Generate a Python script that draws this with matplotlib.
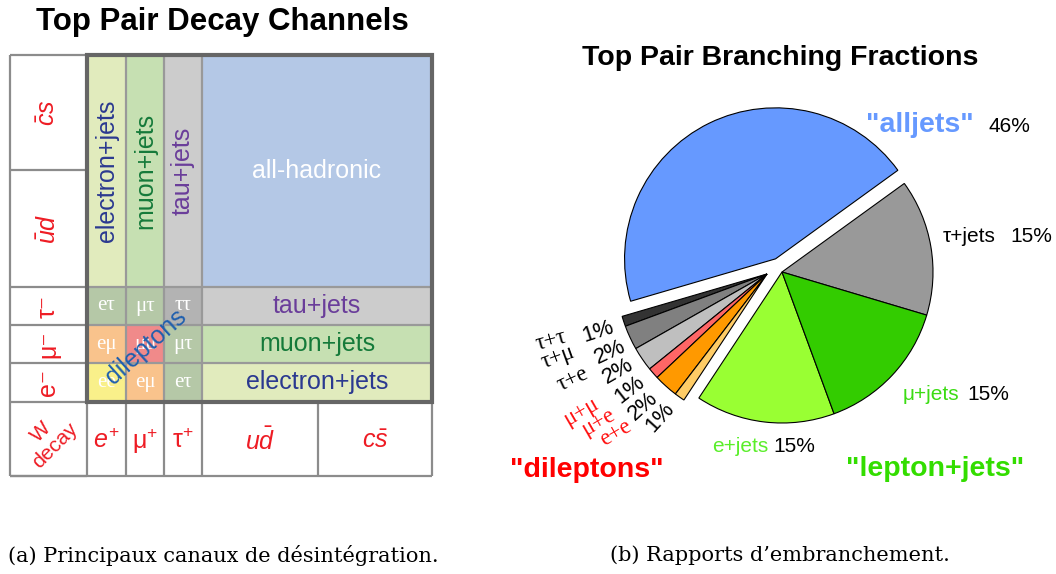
import matplotlib
matplotlib.use('Agg')
import matplotlib.pyplot as plt
from matplotlib.patches import Rectangle

plt.rcParams['font.family'] = ['Liberation Sans', 'DejaVu Sans']
plt.rcParams['mathtext.fontset'] = 'custom'
plt.rcParams['mathtext.rm'] = 'Liberation Sans'
plt.rcParams['mathtext.it'] = 'Liberation Sans:italic'
plt.rcParams['mathtext.bf'] = 'Liberation Sans:bold'

# ---- left panel: top pair decay channels ----
w_plus = [r'$e^{+}$', r'$\mathrm{\mu}^{+}$', r'$\mathrm{\tau}^{+}$', r'$u\bar{d}$', r'$c\bar{s}$']
w_minus = [r'$\bar{c}s$', r'$\bar{u}d$', 'τ⁻', 'μ⁻', 'e⁻']
top_channels = ['electron+jets', 'muon+jets', 'tau+jets', 'all-hadronic']
lep_rows = ['tau+jets', 'muon+jets', 'electron+jets']
dilep_cells = [['eτ', 'μτ', 'ττ'],
               ['eμ', 'μμ', 'μτ'],
               ['ee', 'eμ', 'eτ']]

# ---- right panel: branching fractions (percent) ----
pie_names = ['τ+jets', 'alljets', 'τ+τ', 'τ+μ', 'τ+e', 'μ+μ', 'μ+e', 'e+e', 'e+jets', 'μ+jets']
pie_values = [14.6, 44.6, 1.1, 2.6, 2.6, 1.2, 2.6, 1.1, 14.9, 14.8]
pie_labels = ['15%', '46%', '1%', '2%', '2%', '1%', '2%', '1%', '15%', '15%']

# colours
chan_col = {'electron+jets': '#e1ebbd', 'muon+jets': '#c6e0b2', 'tau+jets': '#cccccc',
            'all-hadronic': '#b4c8e6'}
chan_txt = {'electron+jets': '#2b3990', 'muon+jets': '#157a3a', 'tau+jets': '#6a3d9a',
            'all-hadronic': 'white'}
dilep_col = {'eτ': '#b5c8a7', 'μτ': '#b5c8a7', 'ττ': '#b3b3b3',
             'eμ': '#f9c38c', 'μμ': '#f08a8a', 'ee': '#f9f08a'}
pie_colors = ['#999999', '#6699ff', '#333333', '#808080', '#bfbfbf',
              '#ff6666', '#ff9900', '#ffcc66', '#99ff33', '#33cc00']
RED = '#ee1c24'

W, H = 1056, 574
fig = plt.figure(figsize=(W / 100, H / 100), dpi=100)
ax = fig.add_axes([0, 0, 1, 1])
ax.set_xlim(0, W)
ax.set_ylim(H, 0)
ax.axis('off')

# table layout in pixels
col_edges = [10, 87, 126, 164, 202, 318, 432]
row_edges = [55, 170, 287, 325, 363, 402, 476]


def cell(c0, c1, r0, r1, color):
    x0, x1 = col_edges[c0], col_edges[c1 + 1]
    y0, y1 = row_edges[r0], row_edges[r1 + 1]
    ax.add_patch(Rectangle((x0, y0), x1 - x0, y1 - y0, facecolor=color, edgecolor='none', zorder=1))
    return (x0 + x1) / 2, (y0 + y1) / 2


# hadronic rows: vertical lepton+jets columns and all-hadronic block
for i, name in enumerate(top_channels):
    if name == 'all-hadronic':
        x, y = cell(4, 5, 0, 1, chan_col[name])
        ax.text(x, y, name, color=chan_txt[name], fontsize=18, ha='center', va='center', zorder=5)
    else:
        x, y = cell(i + 1, i + 1, 0, 1, chan_col[name])
        ax.text(x, y, name, color=chan_txt[name], fontsize=18, rotation=90,
                ha='center', va='center', zorder=5)

# lepton rows
for r, name in enumerate(lep_rows):
    x, y = cell(4, 5, r + 2, r + 2, chan_col[name])
    ax.text(x, y, name, color=chan_txt[name], fontsize=18, ha='center', va='center', zorder=5)
    for c, d in enumerate(dilep_cells[r]):
        x, y = cell(c + 1, c + 1, r + 2, r + 2, dilep_col[d])
        ax.text(x, y, d, color='white', fontsize=15, family='Liberation Serif',
                ha='center', va='center', zorder=5)

ax.text(146, 347, 'dileptons', color='#1f5fae', fontsize=18, rotation=42,
        ha='center', va='center', zorder=6)

# grid lines
GRID = '#8c8c8c'
ax.vlines(col_edges[0], row_edges[0], row_edges[-1], color=GRID, lw=1.6, zorder=3)
ax.hlines(row_edges, col_edges[0], col_edges[1], color=GRID, lw=1.6, zorder=3)
ax.hlines(row_edges[-1], col_edges[0], col_edges[-1], color=GRID, lw=1.6, zorder=3)
ax.vlines(col_edges[1:], row_edges[-2], row_edges[-1], color=GRID, lw=1.6, zorder=3)
ax.vlines(col_edges[2:5], row_edges[0], row_edges[-2], color='#999999', lw=1.6, zorder=3)
ax.hlines(row_edges[2:5], col_edges[1], col_edges[-1], color='#999999', lw=1.6, zorder=3)
ax.add_patch(Rectangle((col_edges[1], row_edges[0]), col_edges[-1] - col_edges[1],
                       row_edges[-2] - row_edges[0], facecolor='none',
                       edgecolor='#666666', lw=3, zorder=4))

# W- labels (left column)
for r, lab in enumerate(w_minus):
    yc = (row_edges[r] + row_edges[r + 1]) / 2
    ax.text(48, yc, lab, color=RED, fontsize=18, rotation=90, ha='center', va='center', zorder=5)
# W+ labels (bottom row)
yb = (row_edges[-2] + row_edges[-1]) / 2
for c, lab in enumerate(w_plus):
    xc = (col_edges[c + 1] + col_edges[c + 2]) / 2
    ax.text(xc, yb + 2, lab, color=RED, fontsize=18, ha='center', va='center', zorder=5)
ax.text(48, yb, 'W\ndecay', color=RED, fontsize=15, rotation=45, ha='center', va='center',
        linespacing=1.0, zorder=5)

ax.text(222, 22, 'Top Pair Decay Channels', fontsize=22.5, fontweight='bold', ha='center', va='center')

# ---- pie ----
cx, cy, R, s = 782, 272, 151, 1.35
pax = fig.add_axes([(cx - s * R) / W, (H - cy - s * R) / H, 2 * s * R / W, 2 * s * R / H])
explode = [0, 0.097, 0, 0, 0, 0, 0, 0, 0, 0]
wedges, _ = pax.pie(pie_values, colors=pie_colors, startangle=-16.6, counterclock=True,
                    explode=explode, wedgeprops=dict(edgecolor='black', linewidth=0.8))
# dilepton group shifted together
for w in wedges[2:8]:
    w.set_center((-0.099, -0.013))
pax.set_xlim(-s, s)
pax.set_ylim(-s, s)
pax.axis('off')

ax.text(780, 58, 'Top Pair Branching Fractions', fontsize=20.5, fontweight='bold', ha='center', va='center')

ax.text(920, 125, '"alljets"', color='#6699ff', fontsize=20.5, fontweight='bold', ha='center', va='center')
ax.text(1009, 127, pie_labels[1], fontsize=15, ha='center', va='center')
ax.text(969, 237, pie_names[0], fontsize=15, ha='center', va='center')
ax.text(1031, 237, pie_labels[0], fontsize=15, ha='center', va='center')
ax.text(931, 395, pie_names[9], color='#3cdc14', fontsize=15, ha='center', va='center')
ax.text(988, 395, pie_labels[9], fontsize=15, ha='center', va='center')
ax.text(740, 446, pie_names[8], color='#5aee2a', fontsize=15, ha='center', va='center')
ax.text(794, 446, pie_labels[8], fontsize=15, ha='center', va='center')
ax.text(935, 469, '"lepton+jets"', color='#33dd00', fontsize=20.5, fontweight='bold', ha='center', va='center')
ax.text(587, 470, '"dileptons"', color='#ff0000', fontsize=20.5, fontweight='bold', ha='center', va='center')

name_pos = [(551, 341, 15), (558, 357, 20), (573, 379, 25), (581, 412, 30), (598, 422, 30), (616, 433, 30)]
pct_pos = [(598, 332, 18), (610, 352, 25), (618, 371, 30), (630, 390, 38), (643, 406, 42), (660, 417, 48)]
for k in range(6):
    nm, pc = pie_names[k + 2], pie_labels[k + 2]
    x, y, rot = name_pos[k]
    ax.text(x, y, nm, color='black' if k < 3 else '#ff1010', fontsize=16.5, family='Liberation Serif',
            rotation=rot, ha='center', va='center', rotation_mode='anchor')
    x, y, rot = pct_pos[k]
    ax.text(x, y, pc, fontsize=16, rotation=rot, ha='center', va='center', rotation_mode='anchor')

# captions
ax.text(223, 555, '(a) Principaux canaux de désintégration.', fontsize=15, family='DejaVu Serif',
        ha='center', va='center')
ax.text(780, 555, "(b) Rapports d’embranchement.", fontsize=15, family='DejaVu Serif',
        ha='center', va='center')

fig.savefig('out.png', dpi=100)
